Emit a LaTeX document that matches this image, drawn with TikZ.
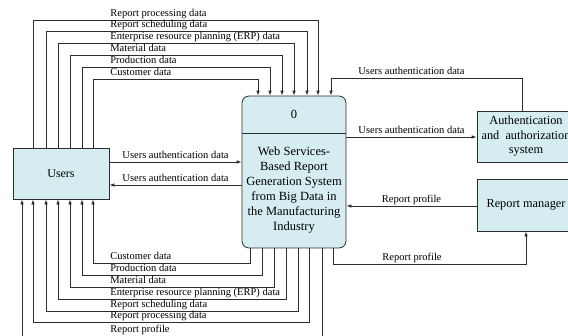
\documentclass[tikz,border=0pt]{standalone}
\usepackage{fontspec}
\setmainfont{Liberation Serif}
\usetikzlibrary{arrows.meta}
\definecolor{cajaazul}{RGB}{213,236,241}
\definecolor{linea}{RGB}{45,45,45}

\begin{document}
\begin{tikzpicture}[x=1pt, y=-1pt,
    caja/.style={draw=linea, fill=cajaazul, line width=0.8pt, inner sep=0pt, align=center},
    flujo/.style={draw=linea, line width=0.8pt, -{Latex[length=5pt,width=3.6pt]}},
    etq/.style={font=\fontsize{10.5}{12}\selectfont, inner sep=1pt, text depth=2.3pt}]
    \useasboundingbox (0,0) rectangle (568,335);
    \clip (0,0) rectangle (568,335);

    % Cajas
    \node[caja, minimum width=96, minimum height=51, font=\fontsize{12}{14}\selectfont] (users) at (61,173.5) {Users};
    \node[caja, minimum width=104, minimum height=152, rounded corners=7pt] (proc) at (294,172) {};
    \draw[linea, line width=0.8pt] (proc.west |- 0,133) -- (proc.east |- 0,133);
    \node[font=\fontsize{12.5}{15}\selectfont] (num) at (294,114) {0};
    \node[align=center, font=\fontsize{12.5}{15}\selectfont] (titulo) at (294,190)
        {Web Services-\\Based Report\\Generation System\\from Big Data in\\the Manufacturing\\Industry};
    \node[caja, minimum width=98, minimum height=51, font=\fontsize{12.3}{14.5}\selectfont] (auth) at (526,136.5)
        {Authentication\\and\ \ authorization\\system};
    \node[caja, minimum width=98, minimum height=52, font=\fontsize{12.3}{14.5}\selectfont] (rm) at (526,205) {Report manager};

    % Flujos de Users hacia el sistema
    \draw[flujo] (users.north -| 33,0) |- (318,20) -- (proc.north -| 318,0)
        node[etq, anchor=south west] at (109,20) {Report processing data};
    \draw[flujo] (users.north -| 46,0) |- (307,31) -- (proc.north -| 307,0)
        node[etq, anchor=south west] at (109,31) {Report scheduling data};
    \draw[flujo] (users.north -| 58,0) |- (294,43) -- (proc.north -| 294,0)
        node[etq, anchor=south west] at (109,43) {Enterprise resource planning (ERP) data};
    \draw[flujo] (users.north -| 70,0) |- (282,55) -- (proc.north -| 282,0)
        node[etq, anchor=south west] at (109,55) {Material data};
    \draw[flujo] (users.north -| 82,0) |- (270,67) -- (proc.north -| 270,0)
        node[etq, anchor=south west] at (109,67) {Production data};
    \draw[flujo] (users.north -| 93,0) |- (258,79) -- (proc.north -| 258,0)
        node[etq, anchor=south west] at (109,79) {Customer data};

    % Autenticacion
    \draw[flujo] (users.east |- 0,162) -- (proc.west |- 0,162)
        node[etq, midway, above] {Users authentication data};
    \draw[flujo] (proc.west |- 0,185) -- (users.east |- 0,185)
        node[etq, midway, above] {Users authentication data};
    \draw[flujo] (proc.east |- 0,137) -- (auth.west |- 0,137)
        node[etq, midway, above] {Users authentication data};
    \draw[flujo] (auth.north -| 522,0) |- (331,78) -- (proc.north -| 331,0)
        node[etq, anchor=south west] at (357,78) {Users authentication data};

    % Report manager
    \draw[flujo] (rm.west |- 0,206) -- (proc.east |- 0,206)
        node[etq, midway, above] {Report profile};
    \draw[flujo] (proc.south -| 333,0) |- (526,264) -- (rm.south)
        node[etq, above] at (412,264) {Report profile};

    % Flujos del sistema hacia Users
    \draw[flujo] (proc.south -| 250,0) |- (93,263) -- (users.south -| 93,0)
        node[etq, anchor=south west] at (109,263) {Customer data};
    \draw[flujo] (proc.south -| 262,0) |- (82,275) -- (users.south -| 82,0)
        node[etq, anchor=south west] at (109,275) {Production data};
    \draw[flujo] (proc.south -| 274,0) |- (70,287) -- (users.south -| 70,0)
        node[etq, anchor=south west] at (109,287) {Material data};
    \draw[flujo] (proc.south -| 286,0) |- (58,299) -- (users.south -| 58,0)
        node[etq, anchor=south west] at (109,299) {Enterprise resource planning (ERP) data};
    \draw[flujo] (proc.south -| 298,0) |- (46,311) -- (users.south -| 46,0)
        node[etq, anchor=south west] at (109,311) {Report scheduling data};
    \draw[flujo] (proc.south -| 309,0) |- (33,322) -- (users.south -| 33,0)
        node[etq, anchor=south west] at (109,322) {Report processing data};
    \draw[flujo] (proc.south -| 322,0) |- (22,336) -- (users.south -| 22,0)
        node[etq, anchor=south west] at (109,336) {Report profile};
\end{tikzpicture}
\end{document}
